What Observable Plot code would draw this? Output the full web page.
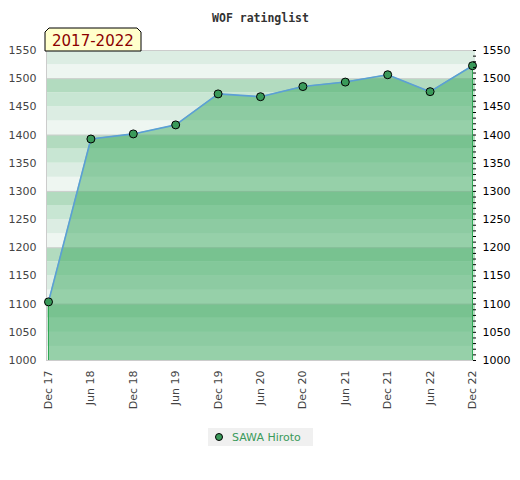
<!DOCTYPE html>
<html>
<head>
<meta charset="utf-8">
<script src="https://cdn.jsdelivr.net/npm/d3@7"></script>
<script src="https://cdn.jsdelivr.net/npm/@observablehq/plot@0.6"></script>
<style>
  body { margin: 0; background: #fff; }
  #wrap { position: relative; width: 520px; height: 480px; }
  #legend {
    position: absolute; left: 208px; top: 428px; width: 105px; height: 18px;
    background: #f0f0f0; font: 11px "DejaVu Sans", sans-serif; color: #3a9a5a;
    display: flex; align-items: center;
  }
  #legend .dot {
    width: 6px; height: 6px; border-radius: 50%; background: #3a9a5a;
    border: 1px solid #000; margin-left: 7px; margin-right: 9px;
  }
</style>
</head>
<body>
<div id="wrap"></div>
<script>
const title = "WOF ratinglist";
const periodLabel = "2017-2022";
const seriesName = "SAWA Hiroto";
const dates = ["Dec 17","Jun 18","Dec 18","Jun 19","Dec 19","Jun 20","Dec 20","Jun 21","Dec 21","Jun 22","Dec 22"];
const ratings = [1104, 1393, 1402, 1418, 1473, 1468, 1486, 1494, 1507, 1477, 1523];
const yLabelTicks = [1000, 1050, 1100, 1150, 1200, 1250, 1300, 1350, 1400, 1450, 1500, 1550];
const yMinorTicks = d3.range(1000, 1551, 10);
const gridLines = [1100, 1200, 1300, 1400, 1500];

const data = dates.map((d, i) => ({date: d, rating: ratings[i]}));
const bandPalette = ["#b2dbbf", "#c8e6d3", "#dcede3", "#eef6f1"];
const bands = d3.range(1000, 1550, 25).map(v => {
  const top = v + 25;
  const idx = ((100 - (top % 100)) % 100) / 25;
  return {y1: v, y2: top, color: bandPalette[idx]};
});

const fontFam = '"DejaVu Sans", sans-serif';
const fmt = d => String(d);

const plot = Plot.plot({
  width: 520,
  height: 420,
  marginTop: 50,
  marginBottom: 60,
  marginLeft: 48,
  marginRight: 48,
  style: {fontFamily: fontFam, fontSize: "11px", color: "#444", background: "#fff"},
  x: {type: "point", domain: dates, padding: 0, round: false, label: null},
  y: {domain: [1000, 1550], label: null},
  marks: [
    Plot.rectY(bands, {y1: "y1", y2: "y2", fill: "color", insetLeft: -2, insetRight: -3}),
    Plot.ruleY(gridLines, {stroke: "#cfcfcf", insetLeft: -2, insetRight: -3}),
    Plot.ruleY([1550, 1000], {stroke: "#cccccc", insetLeft: -2, insetRight: -3}),
    Plot.ruleX([dates[0]], {y1: 1000, y2: 1550, dx: -2, stroke: "#cccccc"}),
    Plot.areaY(data, {x: "date", y1: 1000, y2: "rating", fill: "#3daa62", fillOpacity: 0.5}),
    Plot.ruleX([data[0], data[data.length - 1]], {x: "date", y1: 1000, y2: "rating", stroke: "#2fa854", strokeWidth: 1}),
    Plot.line(data, {x: "date", y: "rating", stroke: "#5b9fd6", strokeWidth: 1.6}),
    Plot.dot(data, {x: "date", y: "rating", r: 4, fill: "#3a9a5a", stroke: "#000", strokeWidth: 1}),
    Plot.axisY({anchor: "left", ticks: yLabelTicks, tickSize: 0, tickPadding: 12, tickFormat: fmt, fill: "#444"}),
    Plot.axisY({anchor: "right", ticks: yMinorTicks, tickSize: 3, tickFormat: () => "", stroke: "#000"}),
    Plot.axisY({anchor: "right", ticks: yLabelTicks, tickSize: 0, tickPadding: 10, tickFormat: fmt, fill: "#000"}),
    Plot.axisX({ticks: dates, tickSize: 0, tickRotate: -90, tickPadding: 10, fill: "#444"}),
    Plot.text([title], {frameAnchor: "top", dy: -37, text: d => d, fontFamily: '"DejaVu Sans Mono", monospace', fontWeight: "bold", fontSize: 11.5, fill: "#333"})
  ]
});

// period label box
const svg = d3.select(plot);
const g = svg.append("g");
const bx0 = 45, bx1 = 141, by0 = 28, by1 = 51, c = 4;
g.append("polygon")
  .attr("points", [[bx0, by1], [bx0, by0 + c], [bx0 + c, by0], [bx1 - c, by0], [bx1, by0 + c], [bx1, by1]].map(p => p.join(",")).join(" "))
  .attr("fill", "#ffffcc").attr("stroke", "#000").attr("stroke-width", 1);
g.append("text").attr("x", 52).attr("y", 46)
  .attr("text-anchor", "start")
  .attr("font-family", fontFam).attr("font-size", 15).attr("fill", "#8b0000")
  .text(periodLabel);

const wrap = document.getElementById("wrap");
wrap.appendChild(plot);
const legend = document.createElement("div");
legend.id = "legend";
legend.innerHTML = '<span class="dot"></span><span></span>';
legend.lastChild.textContent = seriesName;
wrap.appendChild(legend);
</script>
</body>
</html>
